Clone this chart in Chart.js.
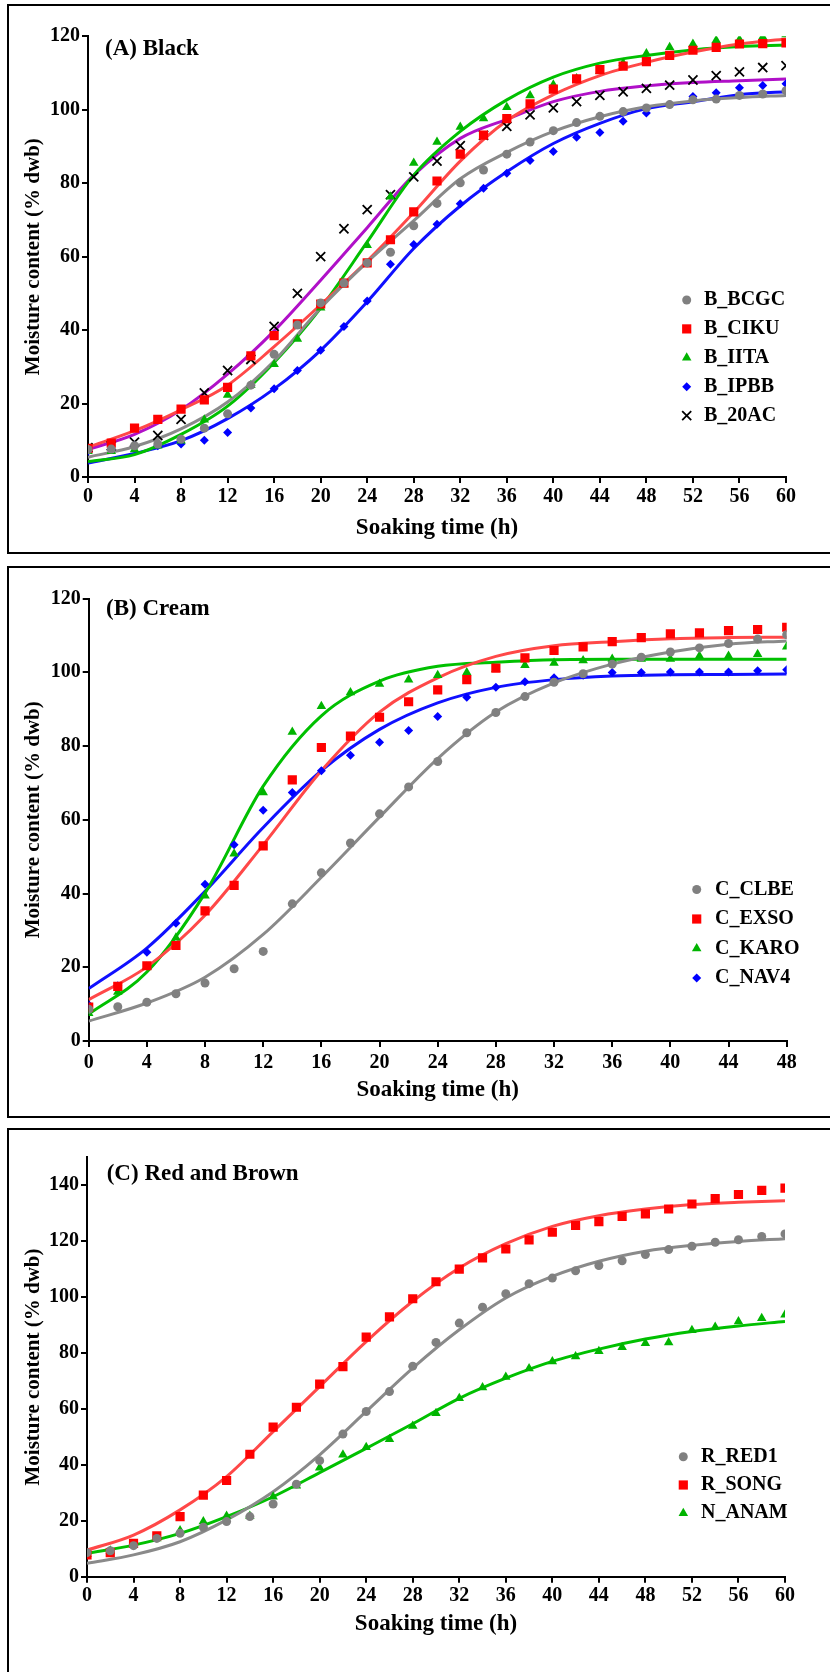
<!DOCTYPE html>
<html>
<head>
<meta charset="utf-8">
<title>Moisture content vs soaking time</title>
<script src="https://cdn.jsdelivr.net/npm/chart.js@4.4.1/dist/chart.umd.min.js"></script>
<style>
  body { margin: 0; background: #fff; width: 830px; height: 1672px; overflow: hidden; position: relative; }
  .box { position: absolute; left: 7px; width: 900px; border: 2px solid #000; box-sizing: border-box; }
  canvas { position: absolute; left: 0; }
</style>
</head>
<body>
<div class="box" style="top:4px;height:550px"></div>
<div class="box" style="top:566px;height:552px"></div>
<div class="box" style="top:1128px;height:600px"></div>
<canvas id="chartA" width="830" height="556" style="top:0px"></canvas>
<canvas id="chartB" width="830" height="564" style="top:556px"></canvas>
<canvas id="chartC" width="830" height="552" style="top:1120px"></canvas>
<script>
// soaking times (h)
var hoursA = [0, 2, 4, 6, 8, 10, 12, 14, 16, 18, 20, 22, 24, 26, 28, 30, 32, 34, 36, 38, 40, 42, 44, 46, 48, 50, 52, 54, 56, 58, 60];
var hoursB = [0, 2, 4, 6, 8, 10, 12, 14, 16, 18, 20, 22, 24, 26, 28, 30, 32, 34, 36, 38, 40, 42, 44, 46, 48];
var hoursC = hoursA;
var fitHours60 = [0, 4, 8, 12, 16, 20, 24, 28, 32, 36, 40, 44, 48, 52, 56, 60];
var fitHours48 = [0, 4, 8, 12, 16, 20, 24, 28, 32, 36, 40, 44, 48];

// (A) black beans - measured
var bBCGC = [7.5, 7.6, 8.5, 9.0, 10.3, 13.3, 17.2, 25.0, 33.4, 41.4, 47.4, 52.8, 58.3, 61.2, 68.4, 74.5, 80.1, 83.6, 87.9, 91.2, 94.3, 96.5, 98.2, 99.5, 100.5, 101.4, 102.7, 102.9, 103.9, 104.3, 105.2];
var bCIKU = [7.8, 9.2, 13.3, 15.7, 18.5, 21.0, 24.4, 33.0, 38.5, 41.7, 47.1, 52.8, 58.3, 64.6, 72.2, 80.6, 87.9, 93.1, 97.6, 101.6, 105.6, 108.4, 110.9, 111.9, 113.1, 114.8, 116.2, 117.0, 117.9, 118.0, 118.2];
var bIITA = [7.0, 7.0, 7.5, 8.5, 9.9, 15.6, 22.3, 25.0, 30.7, 37.6, 46.1, 52.4, 63.1, 76.3, 85.5, 91.2, 95.3, 97.6, 100.7, 103.9, 106.8, 108.5, 110.5, 112.7, 115.3, 117.0, 117.9, 118.9, 119.1, 119.8, 120.5];
var bIPBB = [7.0, 7.5, 8.5, 8.5, 9.0, 10.0, 12.1, 18.8, 24.0, 29.0, 34.5, 41.0, 47.9, 57.9, 63.3, 68.8, 74.4, 78.6, 82.7, 86.2, 88.6, 92.5, 93.8, 96.9, 99.1, 101.4, 103.6, 104.6, 106.0, 106.6, 107.1];
var b20AC = [8.0, 8.5, 9.5, 11.3, 15.7, 22.9, 29.0, 32.0, 41.0, 50.0, 60.0, 67.6, 72.8, 76.9, 81.7, 86.0, 90.2, 93.0, 95.5, 98.6, 100.5, 102.2, 103.9, 104.9, 105.8, 106.7, 108.1, 109.3, 110.3, 111.5, 112.0];
// (A) fitted curves
var fitBCGC = [5.4, 8.3, 13.1, 20.4, 31.6, 46.0, 58.5, 69.8, 81.2, 88.4, 94.1, 98.1, 100.8, 102.4, 103.3, 103.9];
var fitCIKU = [8.1, 12.6, 18.3, 25.0, 35.5, 46.9, 58.8, 72.0, 86.0, 97.0, 104.1, 109.3, 112.9, 115.7, 117.9, 119.3];
var fitIITA = [4.2, 6.1, 11.6, 19.3, 31.2, 46.0, 64.0, 82.2, 94.1, 102.7, 108.9, 112.7, 114.8, 116.3, 117.2, 117.6];
var fitIPBB = [3.8, 6.4, 9.9, 15.9, 24.0, 34.5, 47.7, 62.2, 73.8, 83.1, 90.8, 96.3, 100.3, 102.2, 104.1, 104.9];
var fit20AC = [7.5, 11.6, 18.3, 28.0, 39.8, 53.6, 67.9, 82.2, 92.2, 97.4, 102.2, 105.0, 106.5, 107.4, 107.9, 108.4];

// (B) cream beans - measured
var cCLBE = [8.6, 9.3, 10.5, 12.8, 15.7, 19.6, 24.3, 37.2, 45.6, 53.7, 61.6, 68.9, 75.8, 83.6, 89.1, 93.4, 97.3, 99.6, 102.2, 104.1, 105.5, 106.6, 107.8, 109.0, 110.2];
var cEXSO = [9.2, 14.8, 20.4, 25.9, 35.3, 42.2, 52.9, 70.8, 79.6, 82.7, 87.8, 92.0, 95.2, 98.0, 101.1, 103.9, 105.9, 106.9, 108.3, 109.4, 110.4, 110.7, 111.3, 111.6, 112.2];
var cKARO = [7.5, 13.3, 20.1, 28.0, 39.4, 50.8, 67.4, 83.8, 90.8, 94.5, 96.8, 98.0, 99.2, 99.9, 100.8, 101.9, 102.5, 103.2, 103.6, 103.6, 103.6, 104.4, 104.4, 104.9, 106.9];
var cNAV4 = [9.8, 15.0, 24.1, 31.9, 42.5, 53.2, 62.6, 67.4, 73.3, 77.5, 81.0, 84.2, 88.0, 93.2, 95.9, 97.4, 98.5, 99.2, 99.9, 99.9, 100.1, 100.1, 100.1, 100.4, 100.7];
// (B) fitted curves
var fitCLBE = [5.4, 10.3, 17.3, 28.9, 44.4, 60.7, 76.6, 89.2, 97.1, 102.2, 105.5, 107.6, 108.5];
var fitEXSO = [11.2, 20.1, 34.1, 53.2, 73.3, 89.2, 98.5, 104.3, 107.2, 108.3, 109.1, 109.4, 109.5];
var fitKARO = [7.3, 18.7, 40.1, 69.1, 88.2, 97.6, 101.6, 102.7, 103.4, 103.5, 103.5, 103.5, 103.5];
var fitNAV4 = [14.2, 25.2, 40.6, 57.9, 73.3, 84.5, 91.7, 95.9, 98.0, 99.0, 99.3, 99.4, 99.5];

// (C) red and brown beans - measured
var rRED1 = [8.6, 9.3, 11.1, 13.7, 15.5, 17.7, 19.7, 21.5, 26.0, 33.1, 41.5, 51.0, 59.1, 66.2, 75.3, 83.8, 90.7, 96.4, 101.2, 104.8, 106.8, 109.4, 111.3, 113.0, 115.2, 117.0, 118.2, 119.6, 120.5, 121.7, 122.6];
var rSONG = [7.8, 8.6, 11.9, 14.6, 21.5, 29.2, 34.4, 43.8, 53.5, 60.6, 68.9, 75.1, 85.7, 92.9, 99.4, 105.5, 110.0, 114.0, 117.2, 120.5, 123.2, 125.6, 127.0, 128.9, 129.8, 131.5, 133.3, 135.2, 136.7, 138.2, 139.0];
var nANAM = [8.0, 9.3, 11.3, 13.7, 16.5, 19.7, 21.7, 21.7, 28.6, 32.5, 39.0, 43.6, 46.3, 49.2, 53.9, 58.5, 63.8, 67.7, 71.4, 74.5, 77.0, 78.8, 80.6, 82.1, 83.5, 83.8, 88.1, 89.3, 91.3, 92.4, 93.7];
// (C) fitted curves
var fitRED1 = [4.8, 7.8, 12.5, 20.3, 30.4, 43.6, 59.1, 74.6, 88.3, 99.7, 107.4, 112.8, 116.4, 118.5, 119.9, 120.9];
var fitSONG = [9.5, 14.9, 23.9, 35.8, 51.9, 68.0, 84.1, 98.5, 110.4, 119.1, 125.3, 129.1, 131.5, 133.1, 133.9, 134.5];
var fitANAM = [8.4, 11.3, 15.5, 21.5, 28.6, 37.2, 45.9, 54.7, 63.8, 71.0, 77.0, 81.4, 85.0, 87.7, 89.7, 91.3];

var FONT = '"Liberation Serif", "Times New Roman", serif';
var GRAY = '#808080', RED = '#ff0000', GREEN = '#00b400', BLUE = '#0000ff', BLACK = '#000000';

var markers = {
    circle: { pointStyle: 'circle', pointRadius: 4.5, pointBorderWidth: 0 },
    rect: { pointStyle: 'rect', pointRadius: 6.5, pointBorderWidth: 0 },
    triangle: { pointStyle: 'triangle', pointRadius: 5.5, pointBorderWidth: 0 },
    rectRot: { pointStyle: 'rectRot', pointRadius: 4.5, pointBorderWidth: 0 },
    crossRot: { pointStyle: 'crossRot', pointRadius: 6.4, pointBorderWidth: 1.8 }
};

function zip(xs, ys) {
    return ys.map(function (y, i) { return { x: xs[i], y: y }; });
}

function measured(label, xs, ys, color, style) {
    var m = markers[style];
    return {
        label: label,
        data: zip(xs, ys),
        showLine: false,
        order: 0,
        pointStyle: m.pointStyle,
        pointRadius: m.pointRadius,
        pointBorderWidth: m.pointBorderWidth,
        pointBackgroundColor: color,
        pointBorderColor: color,
        backgroundColor: color,
        borderColor: color
    };
}

function fitted(xs, ys, color) {
    return {
        label: '',
        data: zip(xs, ys),
        showLine: true,
        isFit: true,
        order: 1,
        borderColor: color,
        borderWidth: 3,
        pointRadius: 0,
        cubicInterpolationMode: 'monotone',
        fill: false
    };
}

// panel caption and legend drawn inside the plot
var panelDecor = {
    id: 'panelDecor',
    afterDraw: function (chart, args, opts) {
        var ctx = chart.ctx;
        ctx.save();
        ctx.fillStyle = '#000';
        ctx.textBaseline = 'middle';
        ctx.textAlign = 'left';
        ctx.font = 'bold 23px ' + FONT;
        ctx.fillText(opts.label, opts.labelX, opts.labelY);
        ctx.font = 'bold 20px ' + FONT;
        chart.data.datasets.filter(function (d) { return !d.isFit; }).forEach(function (d, i) {
            var y = opts.legendY + i * opts.legendStep;
            ctx.fillStyle = d.pointBackgroundColor;
            ctx.strokeStyle = d.pointBorderColor;
            ctx.lineWidth = d.pointBorderWidth;
            Chart.helpers.drawPoint(ctx, {
                pointStyle: d.pointStyle,
                radius: d.pointRadius,
                borderWidth: d.pointBorderWidth,
                rotation: 0
            }, opts.markerX, y);
            ctx.fillStyle = '#000';
            ctx.fillText(d.label, opts.textX, y);
        });
        ctx.restore();
    }
};

function makePanel(id, geo, datasets, xMax, yMax, yTop, decor) {
    var canvas = document.getElementById(id);
    var H = canvas.height;
    return new Chart(canvas, {
        type: 'scatter',
        data: { datasets: datasets },
        plugins: [panelDecor],
        options: {
            responsive: false,
            animation: false,
            devicePixelRatio: 1,
            layout: { padding: { left: 0, top: geo.top, right: 830 - geo.right, bottom: 0 } },
            plugins: {
                legend: { display: false },
                tooltip: { enabled: false },
                panelDecor: decor
            },
            scales: {
                x: {
                    type: 'linear',
                    min: 0,
                    max: xMax,
                    afterFit: function (s) { s.height = H - geo.bottom; },
                    ticks: { stepSize: 4, color: '#000', padding: geo.xTickPad, font: { family: FONT, size: 20, weight: 'bold' } },
                    grid: { drawOnChartArea: false, color: '#000', lineWidth: 2, tickLength: 6 },
                    border: { color: '#000', width: 2 },
                    title: {
                        display: true,
                        text: 'Soaking time (h)',
                        color: '#000',
                        font: { family: FONT, size: 23, weight: 'bold', lineHeight: 1.2 },
                        padding: { top: 0, bottom: H - geo.xTitleY - 13.8 }
                    }
                },
                y: {
                    type: 'linear',
                    min: 0,
                    max: yMax,
                    afterFit: function (s) { s.width = geo.left; },
                    afterBuildTicks: function (s) {
                        s.ticks = s.ticks.filter(function (t) { return t.value <= yTop; });
                    },
                    ticks: { stepSize: 20, color: '#000', padding: 2, font: { family: FONT, size: 20, weight: 'bold' } },
                    grid: { drawOnChartArea: false, color: '#000', lineWidth: 2, tickLength: 6 },
                    border: { color: '#000', width: 2 },
                    title: {
                        display: true,
                        text: 'Moisture content (% dwb)',
                        color: '#000',
                        font: { family: FONT, size: 21, weight: 'bold', lineHeight: 1.2 },
                        padding: { top: 21, bottom: 0 }
                    }
                }
            }
        }
    });
}

makePanel('chartA',
    { left: 88, right: 786, top: 36.3, bottom: 477, xTickPad: 2, xTitleY: 528 },
    [
        measured('B_BCGC', hoursA, bBCGC, GRAY, 'circle'),
        measured('B_CIKU', hoursA, bCIKU, RED, 'rect'),
        measured('B_IITA', hoursA, bIITA, GREEN, 'triangle'),
        measured('B_IPBB', hoursA, bIPBB, BLUE, 'rectRot'),
        measured('B_20AC', hoursA, b20AC, BLACK, 'crossRot'),
        fitted(fitHours60, fitBCGC, '#8a8a8a'),
        fitted(fitHours60, fitCIKU, '#ff4848'),
        fitted(fitHours60, fitIITA, '#00c000'),
        fitted(fitHours60, fitIPBB, '#1010ff'),
        fitted(fitHours60, fit20AC, '#b010c8')
    ],
    60, 120, 120,
    { label: '(A) Black', labelX: 105, labelY: 49, markerX: 686.7, textX: 704, legendY: 300, legendStep: 28.9 });

makePanel('chartB',
    { left: 88.7, right: 786.7, top: 42.5, bottom: 485, xTickPad: 4, xTitleY: 534 },
    [
        measured('C_CLBE', hoursB, cCLBE, GRAY, 'circle'),
        measured('C_EXSO', hoursB, cEXSO, RED, 'rect'),
        measured('C_KARO', hoursB, cKARO, GREEN, 'triangle'),
        measured('C_NAV4', hoursB, cNAV4, BLUE, 'rectRot'),
        fitted(fitHours48, fitCLBE, '#8a8a8a'),
        fitted(fitHours48, fitEXSO, '#ff4848'),
        fitted(fitHours48, fitKARO, '#00c000'),
        fitted(fitHours48, fitNAV4, '#1010ff')
    ],
    48, 120, 120,
    { label: '(B) Cream', labelX: 106, labelY: 53, markerX: 696.7, textX: 715, legendY: 333.5, legendStep: 29.5 });

makePanel('chartC',
    { left: 87, right: 785, top: 37.3, bottom: 456.7, xTickPad: 1, xTitleY: 504 },
    [
        measured('R_RED1', hoursC, rRED1, GRAY, 'circle'),
        measured('R_SONG', hoursC, rSONG, RED, 'rect'),
        measured('N_ANAM', hoursC, nANAM, GREEN, 'triangle'),
        fitted(fitHours60, fitRED1, '#8a8a8a'),
        fitted(fitHours60, fitSONG, '#ff4848'),
        fitted(fitHours60, fitANAM, '#00c000')
    ],
    60, 150, 140,
    { label: '(C) Red and Brown', labelX: 106.7, labelY: 54, markerX: 683.3, textX: 701, legendY: 336.7, legendStep: 28.3 });
</script>
</body>
</html>
